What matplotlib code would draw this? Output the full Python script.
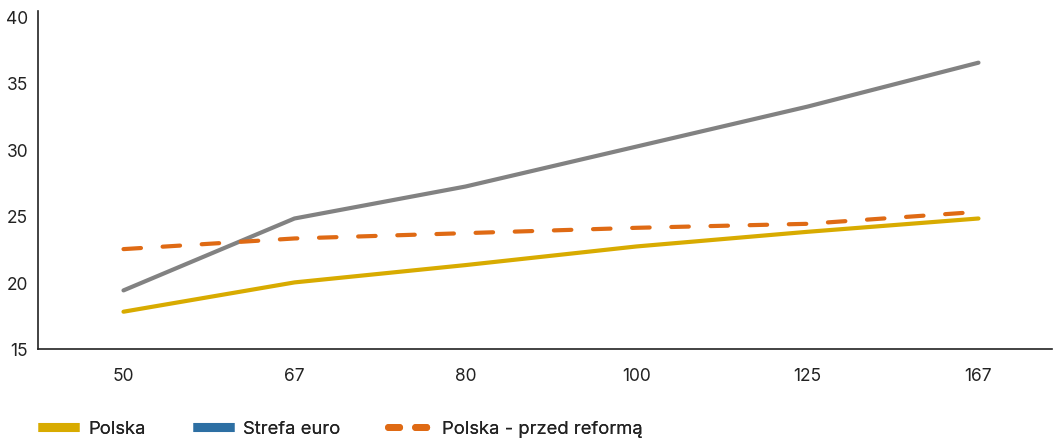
import matplotlib
matplotlib.use("Agg")
import matplotlib.pyplot as plt
from matplotlib.lines import Line2D

plt.rcParams['font.family'] = ['Inter', 'DejaVu Sans']

categories = ["50", "67", "80", "100", "125", "167"]
polska = [17.8, 20.0, 21.3, 22.7, 23.8, 24.8]
strefa_euro = [19.4, 24.8, 27.2, 30.2, 33.2, 36.5]
polska_przed = [22.5, 23.3, 23.7, 24.1, 24.4, 25.3]
y_ticks = [15, 20, 25, 30, 35, 40]

c_polska = "#d8ab00"
c_euro_line = "#828282"
c_euro_legend = "#2d6fa3"
c_przed = "#df6a14"

W, H = 1053, 439
fig = plt.figure(figsize=(W / 100, H / 100), dpi=100)
ax = fig.add_axes([38 / W, 89 / H, (1052 - 38) / W, (350 - 12) / H])

x = list(range(len(categories)))
ax.plot(x, polska, color=c_polska, lw=3, solid_capstyle="round", zorder=3)
ax.plot(x, strefa_euro, color=c_euro_line, lw=3, solid_capstyle="round", zorder=2)
ax.plot(x, polska_przed, color=c_przed, lw=3, dashes=(4.2, 5.2),
        dash_capstyle="round", zorder=4)

ax.set_xlim(-0.5, 5.43)
ax.set_ylim(15, 40.38)
ax.set_xticks(x)
ax.set_xticklabels(categories)
ax.set_yticks(y_ticks)
ax.tick_params(axis="both", length=0, labelsize=12.5, colors="#222222")
ax.tick_params(axis="x", pad=13)
ax.tick_params(axis="y", pad=7)
for s in ["top", "right"]:
    ax.spines[s].set_visible(False)
for s in ["left", "bottom"]:
    ax.spines[s].set_color("#222222")
    ax.spines[s].set_linewidth(1.2)

# legend entries laid out individually along the bottom
legend_items = [
    (Line2D([], [], color=c_polska, lw=6.5, solid_capstyle="butt"), "Polska", 38, 2.2),
    (Line2D([], [], color=c_euro_legend, lw=6.5, solid_capstyle="butt"), "Strefa euro", 193, 2.2),
    (Line2D([], [], color=c_przed, lw=5, dashes=(1.6, 2.3), dash_capstyle="round"),
     "Polska - przed reformą", 388, 2.4),
]
fs = 13.3
for handle, label, px, hl in legend_items:
    leg = fig.legend([handle], [label], loc="center left",
                     bbox_to_anchor=(px / W, (H - 430) / H), frameon=False,
                     fontsize=fs, handlelength=hl, handletextpad=0.5,
                     borderpad=0, borderaxespad=0, labelcolor="#222222")
    fig.add_artist(leg)

fig.savefig("out.png", dpi=100, facecolor="white")
